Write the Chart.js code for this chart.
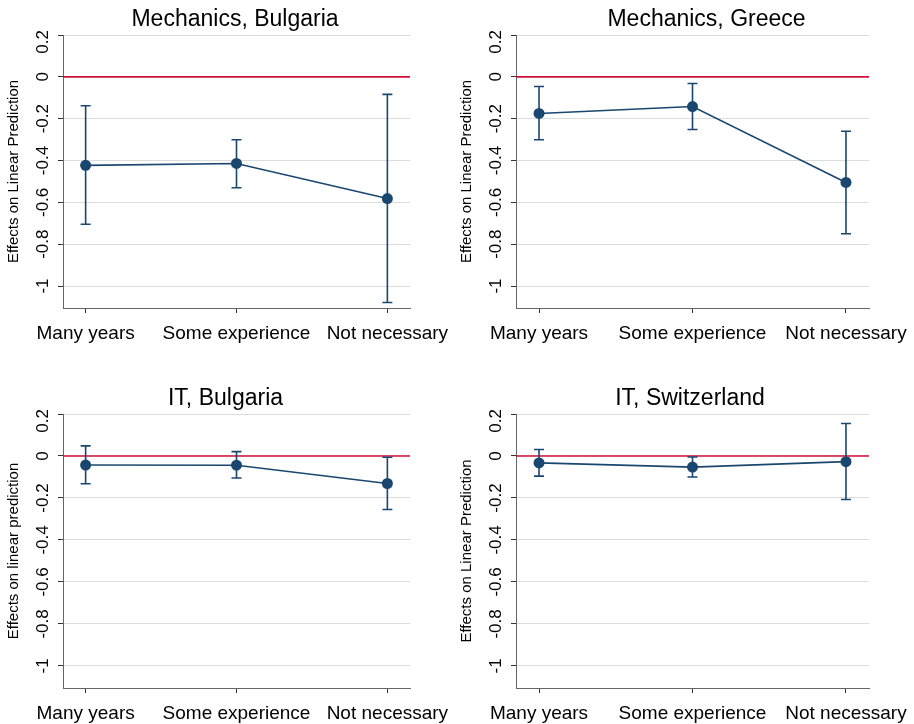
<!DOCTYPE html>
<html lang="en">
<head>
  <meta charset="UTF-8">
  <title>Effects on Linear Prediction</title>
  <script src="https://cdn.jsdelivr.net/npm/chart.js@4"></script>
  <style>
    body { margin: 0; background: #fff; }
    #wrap { position: relative; width: 914px; height: 724px; }
    #wrap canvas { position: absolute; }
  </style>
</head>
<body>
  <div id="wrap">
    <canvas id="c1" style="left:0;top:0" width="457" height="362"></canvas>
    <canvas id="c2" style="left:457px;top:0" width="457" height="362"></canvas>
    <canvas id="c3" style="left:0;top:362px" width="457" height="362"></canvas>
    <canvas id="c4" style="left:457px;top:362px" width="457" height="362"></canvas>
  </div>

  <script>
    const categories = ['Many years', 'Some experience', 'Not necessary'];
    const yTicks = [0.2, 0, -0.2, -0.4, -0.6, -0.8, -1];
    const yTickLabels = ['0.2', '0', '-0.2', '-0.4', '-0.6', '-0.8', '-1'];

    const titles = ['Mechanics, Bulgaria', 'Mechanics, Greece', 'IT, Bulgaria', 'IT, Switzerland'];
    const yTitles = ['Effects on Linear Prediction', 'Effects on Linear Prediction',
                     'Effects on linear prediction', 'Effects on Linear Prediction'];

    // point estimates and 95% CI bounds
    const mechBgEst = [-0.423, -0.414, -0.582];
    const mechBgLo  = [-0.705, -0.530, -1.079];
    const mechBgHi  = [-0.138, -0.301, -0.084];

    const mechGrEst = [-0.175, -0.142, -0.505];
    const mechGrLo  = [-0.301, -0.252, -0.750];
    const mechGrHi  = [-0.046, -0.032, -0.260];

    const itBgEst = [-0.043, -0.044, -0.131];
    const itBgLo  = [-0.132, -0.105, -0.255];
    const itBgHi  = [0.048, 0.021, -0.006];

    const itChEst = [-0.033, -0.053, -0.027];
    const itChLo  = [-0.096, -0.100, -0.207];
    const itChHi  = [0.031, -0.005, 0.155];

    const NAVY = '#1a476f';
    const RED = '#d0103a';
    const FONT = "'Liberation Sans', Arial, sans-serif";

    // layout of each panel (canvas-relative)
    const panels = [
      { id: 'c1', est: mechBgEst, lo: mechBgLo, hi: mechBgHi, left: 63, right: 47, top: 35, xh: 54, titleDx: -1.5 },
      { id: 'c2', est: mechGrEst, lo: mechGrLo, hi: mechGrHi, left: 59, right: 45, top: 35, xh: 54, titleDx: 14 },
      { id: 'c3', est: itBgEst, lo: itBgLo, hi: itBgHi, left: 63, right: 47, top: 52, xh: 36, titleDx: -11 },
      { id: 'c4', est: itChEst, lo: itChLo, hi: itChHi, left: 59, right: 45, top: 52, xh: 36, titleDx: -2.5 }
    ];

    const extrasPlugin = {
      id: 'extras',
      afterDatasetsDraw(chart, args, opts) {
        const ctx = chart.ctx;
        const xs = chart.scales.x, ys = chart.scales.y;
        // error bars
        ctx.save();
        ctx.strokeStyle = NAVY;
        ctx.lineWidth = 1.6;
        opts.lo.forEach((lo, i) => {
          const x = xs.getPixelForValue(i + 1);
          const y1 = ys.getPixelForValue(lo);
          const y2 = ys.getPixelForValue(opts.hi[i]);
          ctx.beginPath();
          ctx.moveTo(x, y1); ctx.lineTo(x, y2);
          ctx.moveTo(x - 5, y1); ctx.lineTo(x + 5, y1);
          ctx.moveTo(x - 5, y2); ctx.lineTo(x + 5, y2);
          ctx.stroke();
        });
        ctx.restore();
      },
      afterDraw(chart, args, opts) {
        const ctx = chart.ctx;
        const area = chart.chartArea;
        const ys = chart.scales.y;
        ctx.save();
        ctx.fillStyle = '#000';
        // rotated y tick labels
        ctx.font = '17px ' + FONT;
        ctx.textAlign = 'center';
        ctx.textBaseline = 'alphabetic';
        yTicks.forEach((v, i) => {
          const label = yTickLabels[i];
          const half = ctx.measureText(label).width / 2;
          const y = Math.max(ys.getPixelForValue(v), area.top - 5 + half);
          ctx.save();
          ctx.translate(area.left - 15, y);
          ctx.rotate(-Math.PI / 2);
          ctx.fillText(label, 0, 0);
          ctx.restore();
        });
        // y axis title
        ctx.font = '15px ' + FONT;
        ctx.textBaseline = 'middle';
        ctx.save();
        ctx.translate(area.left - 49, (area.top + area.bottom) / 2);
        ctx.rotate(-Math.PI / 2);
        ctx.fillText(opts.yTitle, 0, 0);
        ctx.restore();
        // panel title
        ctx.font = '23px ' + FONT;
        ctx.textBaseline = 'alphabetic';
        ctx.fillText(opts.title, (area.left + area.right) / 2 + opts.titleDx, area.top - 9);
        ctx.restore();
      }
    };

    panels.forEach((p, k) => {
      const pts = p.est.map((v, i) => ({ x: i + 1, y: v }));
      new Chart(document.getElementById(p.id), {
        type: 'scatter',
        data: {
          datasets: [
            {
              data: [{ x: 0.85, y: 0 }, { x: 3.15, y: 0 }],
              showLine: true,
              borderColor: RED,
              borderWidth: 1.6,
              pointRadius: 0
            },
            {
              data: pts,
              showLine: true,
              borderColor: NAVY,
              borderWidth: 1.6,
              pointRadius: 5.5,
              pointBackgroundColor: NAVY,
              pointBorderWidth: 0
            }
          ]
        },
        options: {
          responsive: false,
          animation: false,
          layout: { padding: { left: 0, right: p.right, top: p.top, bottom: 0 } },
          plugins: {
            legend: { display: false },
            tooltip: { enabled: false },
            extras: { lo: p.lo, hi: p.hi, title: titles[k], yTitle: yTitles[k], titleDx: p.titleDx }
          },
          scales: {
            x: {
              type: 'linear',
              min: 0.85,
              max: 3.15,
              afterBuildTicks: s => { s.ticks = [1, 2, 3].map(v => ({ value: v })); },
              afterFit: s => { s.height = p.xh; s.paddingLeft = 0; s.paddingRight = 0; },
              ticks: {
                autoSkip: false,
                maxRotation: 0,
                minRotation: 0,
                padding: 9,
                color: '#000',
                font: { family: FONT, size: 19 },
                callback: v => categories[v - 1]
              },
              grid: { drawOnChartArea: false, drawTicks: true, tickLength: 5, tickColor: '#333' },
              border: { color: '#666', width: 1 }
            },
            y: {
              min: -1.105,
              max: 0.2,
              afterBuildTicks: s => { s.ticks = yTicks.map(v => ({ value: v })); },
              afterFit: s => { s.width = p.left; s.paddingTop = 0; s.paddingBottom = 0; },
              ticks: { display: false },
              grid: { color: '#dcdcdc', lineWidth: 1, drawTicks: true, tickLength: 5, tickColor: '#333' },
              border: { color: '#666', width: 1 }
            }
          }
        },
        plugins: [extrasPlugin]
      });
    });
  </script>
</body>
</html>
